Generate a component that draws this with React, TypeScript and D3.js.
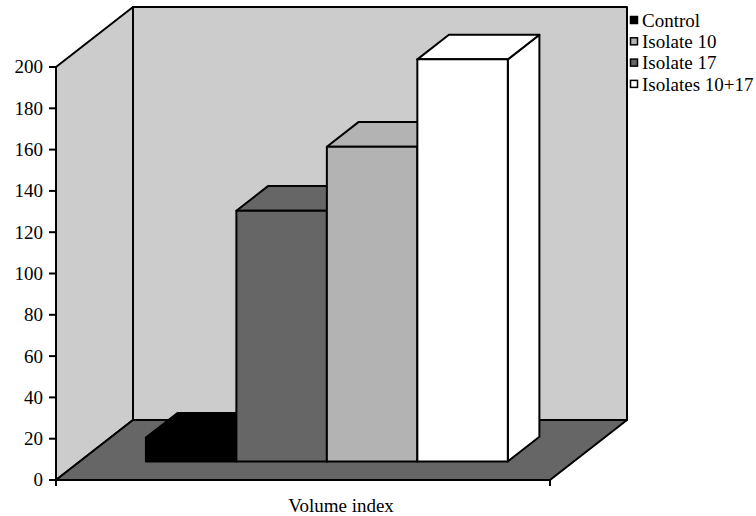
import React from "react";
import * as d3 from "d3";

// Series, in legend order
const seriesNames = ["Control", "Isolate 10", "Isolate 17", "Isolates 10+17"];
const seriesValues = [11.5, 152.4, 121.4, 194.7];
const seriesColors = ["#000000", "#b3b3b3", "#666666", "#ffffff"];
// Left-to-right order of the columns on the floor
const barOrder = ["Control", "Isolate 17", "Isolate 10", "Isolates 10+17"];
const yTicks = [0, 20, 40, 60, 80, 100, 120, 140, 160, 180, 200];
const categoryLabel = "Volume index";

const W = 756;
const H = 516;
const FONT = "'Liberation Serif', 'Times New Roman', Times, serif";
const FS = 19;

// Oblique 3D projection: depth t in [0,1] shifts a point right and up
const DX = 77;
const DY = -60;
const frontLeft = 56;
const frontRight = 550;
const barFront = 0.31;
const barBack = 0.72;

const y = d3.scaleLinear().domain([0, 200]).range([480, 67]);
const xBand = d3
  .scaleBand<string>()
  .domain(barOrder)
  .range([frontLeft, frontRight])
  .paddingInner(0)
  .paddingOuter(0.73);

type P = [number, number];
const proj = (x: number, v: number, t: number): P => [x + t * DX, y(v) + t * DY];
const poly = (pts: P[]) => (d3.line()(pts) as string) + "Z";

export default function App() {
  const vMax = 200;
  const sideWall = [proj(frontLeft, 0, 0), proj(frontLeft, vMax, 0), proj(frontLeft, vMax, 1), proj(frontLeft, 0, 1)];
  const backWall = [proj(frontLeft, 0, 1), proj(frontLeft, vMax, 1), proj(frontRight, vMax, 1), proj(frontRight, 0, 1)];
  const floor = [proj(frontLeft, 0, 0), proj(frontRight, 0, 0), proj(frontRight, 0, 1), proj(frontLeft, 0, 1)];

  const stroke = { stroke: "#000", strokeWidth: 2, strokeLinejoin: "round" as const };

  const bars = barOrder.map((name) => {
    const i = seriesNames.indexOf(name);
    const v = seriesValues[i];
    const L = xBand(name) as number;
    const R = L + xBand.bandwidth();
    const front = [proj(L, 0, barFront), proj(R, 0, barFront), proj(R, v, barFront), proj(L, v, barFront)];
    const top = [proj(L, v, barFront), proj(R, v, barFront), proj(R, v, barBack), proj(L, v, barBack)];
    const side = [proj(R, 0, barFront), proj(R, 0, barBack), proj(R, v, barBack), proj(R, v, barFront)];
    return { name, color: seriesColors[i], front, top, side };
  });

  const axisX = frontLeft;

  return (
    <div style={{ position: "fixed", left: 0, top: 0 }}>
      <svg width={W} height={H} style={{ display: "block", background: "#fff" }}>
        {/* walls and floor */}
        <path d={poly(sideWall)} fill="#cccccc" {...stroke} />
        <path d={poly(backWall)} fill="#cccccc" {...stroke} />
        <path d={poly(floor)} fill="#666666" {...stroke} />

        {/* columns, drawn left to right */}
        {bars.map((b) => (
          <g key={b.name}>
            <path d={poly(b.side)} fill={b.color} {...stroke} />
            <path d={poly(b.top)} fill={b.color} {...stroke} />
            <path d={poly(b.front)} fill={b.color} {...stroke} />
          </g>
        ))}

        {/* value axis */}
        <line x1={axisX} x2={axisX} y1={y(200)} y2={y(0) + 6} stroke="#000" strokeWidth={2} />
        {yTicks.map((t) => (
          <g key={t}>
            <line x1={axisX - 7} x2={axisX} y1={y(t)} y2={y(t)} stroke="#000" strokeWidth={2} />
            <text
              x={axisX - 13}
              y={y(t)}
              dy="0.34em"
              textAnchor="end"
              fontFamily={FONT}
              fontSize={FS}
              fill="#000"
            >
              {t}
            </text>
          </g>
        ))}

        {/* category axis */}
        <line x1={frontLeft} x2={frontRight} y1={y(0)} y2={y(0)} stroke="#000" strokeWidth={2} />
        <line x1={frontRight} x2={frontRight} y1={y(0)} y2={y(0) + 6} stroke="#000" strokeWidth={2} />
        <text x={341} y={512} textAnchor="middle" fontFamily={FONT} fontSize={FS} fill="#000">
          {categoryLabel}
        </text>

        {/* legend */}
        {seriesNames.map((name, i) => {
          const cy = 20 + i * 21.3;
          return (
            <g key={name}>
              <rect
                x={630.5}
                y={cy - 3.5}
                width={7}
                height={7}
                fill={seriesColors[i]}
                stroke="#000"
                strokeWidth={1.5}
              />
              <text x={642} y={cy} dy="0.36em" fontFamily={FONT} fontSize={FS} fill="#000">
                {name}
              </text>
            </g>
          );
        })}
      </svg>
    </div>
  );
}
